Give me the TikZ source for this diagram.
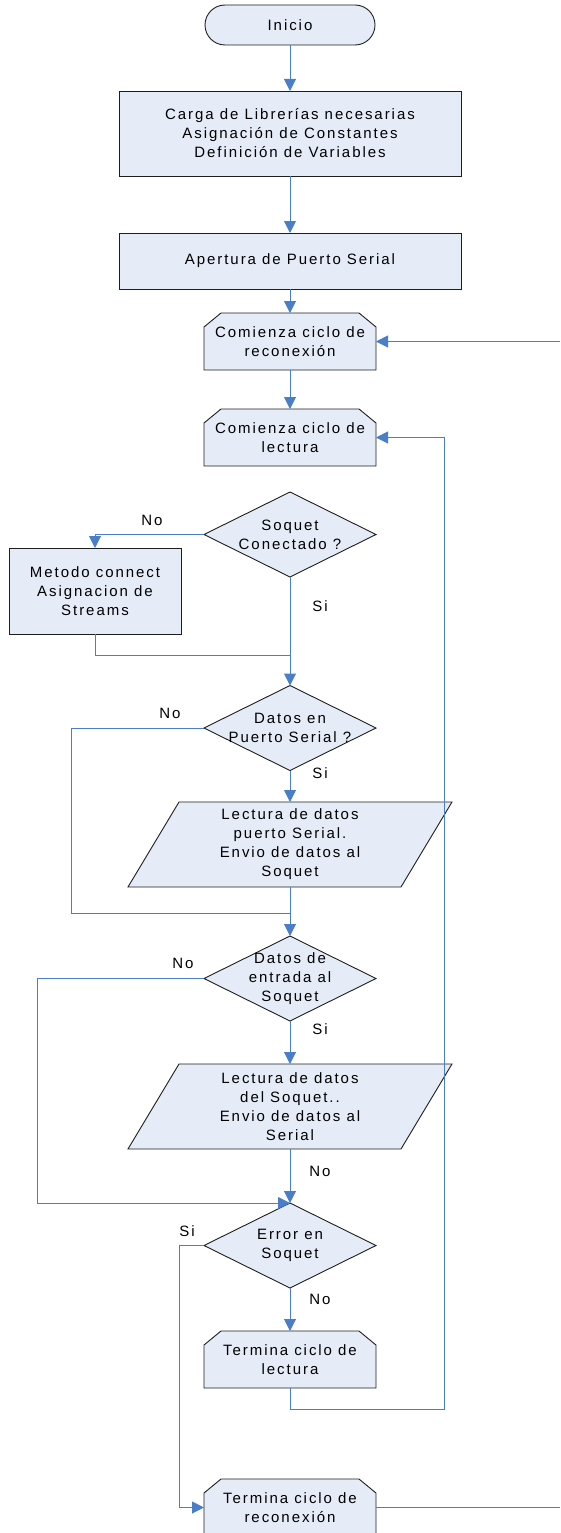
\documentclass[tikz,border=0pt]{standalone}
\usepackage{fontspec}
\setmainfont[LetterSpace=13]{Liberation Sans}
\usetikzlibrary{shapes.geometric,arrows.meta,backgrounds}
\definecolor{boxfill}{RGB}{230,236,247}
\definecolor{flowblue}{RGB}{74,126,200}
\definecolor{edgeline}{RGB}{30,30,30}
\begin{document}
\begin{tikzpicture}[x=1pt,y=-1pt,
  every node/.style={font=\fontsize{15}{19}\selectfont, text=black},
  shapeline/.style={draw=edgeline, fill=boxfill, line width=0.9pt},
  procbox/.style={shapeline, rectangle, inner sep=0pt, outer sep=0pt, align=center},
  framebox/.style={rectangle, inner sep=0pt, outer sep=0pt, align=center,
    minimum width=172pt, minimum height=57pt},
  decision/.style={shapeline, diamond, inner sep=0pt, outer sep=0pt,
    minimum width=172pt, minimum height=85pt},
  ioframe/.style={rectangle, inner sep=0pt, outer sep=0pt, align=center,
    minimum width=324pt, minimum height=85pt},
  flow/.style={draw=flowblue, line width=1pt},
  arrowflow/.style={flow, -{Triangle[length=12pt,width=12pt]}},
  caption/.style={inner sep=0pt, align=center}
]
\useasboundingbox (0,0) rectangle (560,1533);

% ---- process steps ----
\node[procbox, rounded corners=20pt, minimum width=170pt, minimum height=40pt] (inicio) at (290,25) {Inicio};
\node[procbox, minimum width=342pt, minimum height=85pt] (carga) at (290,133.5)
  {Carga de Librerías necesarias\\Asignación de Constantes\\Definición de Variables};
\node[procbox, minimum width=342pt, minimum height=56pt] (apertura) at (290,261) {Apertura de Puerto Serial};
\node[framebox] (cr) at (290,341.5) {Comienza ciclo de\\reconexión};
\node[framebox] (cl) at (290,437.5) {Comienza ciclo de\\lectura};

\node[decision] (sc) at (290,534.5) {};
\node[caption] (sct) at (sc) {Soquet\\Conectado ?};
\node[procbox, minimum width=172pt, minimum height=86pt] (metodo) at (95,591)
  {Metodo connect\\Asignacion de\\Streams};

\node[decision] (de) at (290,728) {};
\node[caption] (det) at (de) {Datos en\\Puerto Serial ?};
\node[ioframe] (ps1) at (290,844.5)
  {Lectura de datos\\puerto Serial.\\Envio de datos al\\Soquet};

\node[decision] (ds) at (290,978.5) {};
\node[caption] (dst) at (ds) {Datos de\\entrada al\\Soquet};
\node[ioframe] (ps2) at (290,1106.5)
  {Lectura de datos\\del Soquet..\\Envio de datos al\\Serial};

\node[decision] (es) at (290,1245.5) {};
\node[caption] (est) at (es) {Error en\\Soquet};
\node[framebox] (tl) at (290,1359.5) {Termina ciclo de\\lectura};
\node[framebox] (tr) at (290,1507.5) {Termina ciclo de\\reconexión};

% ---- outlines of the loop-limit and data shapes ----
\begin{scope}[on background layer]
  \foreach \n in {cr,cl,tl,tr}
    \draw[shapeline] ([yshift=-14pt]\n.north west) -- ([xshift=17pt]\n.north west)
      -- ([xshift=-17pt]\n.north east) -- ([yshift=-14pt]\n.north east)
      -- (\n.south east) -- (\n.south west) -- cycle;
  \foreach \n in {ps1,ps2}
    \draw[shapeline] ([xshift=51pt]\n.north west) -- (\n.north east)
      -- ([xshift=-51pt]\n.south east) -- (\n.south west) -- cycle;
\end{scope}

% ---- branch captions ----
\node[caption] (no1) at (152,520) {No};
\node[caption] (si1) at (320,606) {Si};
\node[caption] (no2) at (170,713) {No};
\node[caption] (si2) at (320,773) {Si};
\node[caption] (no3) at (183,963.5) {No};
\node[caption] (si3) at (320,1029) {Si};
\node[caption] (no4) at (320,1171) {No};
\node[caption] (si4) at (187,1231) {Si};
\node[caption] (no5) at (320,1299) {No};

% ---- routing points ----
\coordinate (j1) at (290,655);
\coordinate (j2) at (290,913);
\coordinate (j3) at (444,1409);
\coordinate (xa) at (71,0);
\coordinate (xb) at (37,0);
\coordinate (xc) at (179,0);
\coordinate (xe) at (560,0);

% ---- connectors ----
\draw[arrowflow] (inicio.south) -- (carga.north);
\draw[arrowflow] (carga.south) -- (apertura.north);
\draw[arrowflow] (apertura.south) -- (cr.north);
\draw[arrowflow] (cr.south) -- (cl.north);
\draw[arrowflow] (sc.west) -| (metodo.north);
\draw[arrowflow] (sc.south) -- (de.north);
\draw[flow] (metodo.south) |- (j1);
\draw[arrowflow] (de.south) -- (ps1.north);
\draw[flow] (de.west) -| (xa |- j2) -- (j2);
\draw[arrowflow] (ps1.south) -- (ds.north);
\draw[arrowflow] (ds.south) -- (ps2.north);
\draw[arrowflow] (ds.west) -| (xb |- es.north) -- (es.north);
\draw[arrowflow] (ps2.south) -- (es.north);
\draw[arrowflow] (es.south) -- (tl.north);
\draw[arrowflow] (es.west) -| (xc |- tr.west) -- (tr.west);
\draw[arrowflow] (tl.south) |- (j3) |- (cl.east);
\draw[flow] (tr.east) -- (tr.east -| xe);
\draw[arrowflow] (cr.east -| xe) -- (cr.east);
\end{tikzpicture}
\end{document}
